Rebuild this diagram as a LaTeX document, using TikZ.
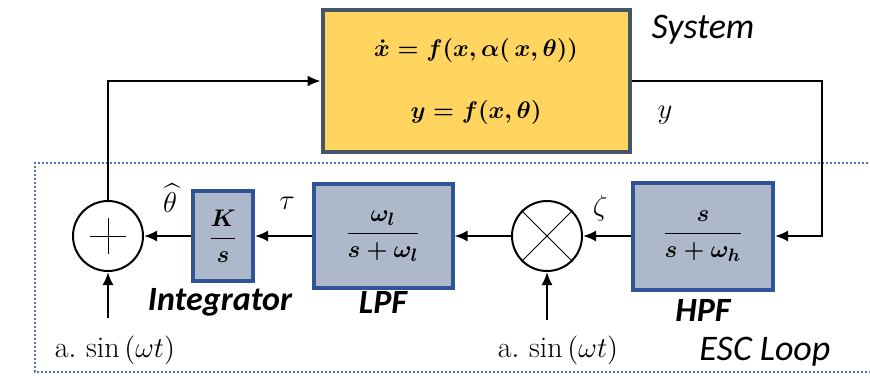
\documentclass[tikz,border=0pt]{standalone}
\usepackage{amsmath}
\usepackage{fontspec}
\newfontfamily\escsans{Carlito}
\usetikzlibrary{arrows.meta,positioning}
\definecolor{escgold}{HTML}{FFD560}
\definecolor{escslate}{HTML}{44546A}
\definecolor{escblue}{HTML}{2F5597}
\definecolor{escgray}{HTML}{ADB9CA}
\definecolor{escdots}{HTML}{4F74B8}
\tikzstyle{escsys}=[draw=escslate,fill=escgold,line width=2pt,minimum width=153.5pt,
  minimum height=71pt,align=center,font=\fontsize{13}{16}\selectfont\boldmath,inner sep=2pt]
\tikzstyle{escblock}=[draw=escblue,fill=escgray,line width=2pt,align=center,
  font=\fontsize{13}{16}\selectfont\boldmath,inner sep=2pt]
\tikzstyle{escjoin}=[draw=black,circle,line width=1pt,minimum size=35pt,inner sep=0pt]
\tikzstyle{escarrow}=[-{Latex[length=6.5pt,width=5.5pt]},draw=black,line width=1pt]
\tikzstyle{esctitle}=[font=\escsans\itshape\fontsize{18}{20}\selectfont]
\tikzstyle{escname}=[font=\escsans\bfseries\itshape\fontsize{17}{20}\selectfont]
\tikzstyle{escsym}=[font=\fontsize{15}{18}\selectfont,inner sep=1pt]
\tikzstyle{escgroup}=[draw=escdots,line width=1pt,dash pattern=on 1pt off 1pt]

\begin{document}
\begin{tikzpicture}[x=0.5pt,y=-0.5pt]
    \useasboundingbox (0,0) rectangle (870,376);
    % ---- plant ----
    \node[escsys] (sys) at (476,81) {$\dot{x} = f(x,\alpha(\,x,\theta))$\\[15pt]$y = f(x,\theta)$};
    \node[esctitle] (systxt) at (703,30) {System};
    \node[escsym] (ytxt) at (665,115) {$y$};

    % ---- ESC loop ----
    \draw[escgroup] (872,163) -- (35,163) -- (35,372) -- (872,372);
    \node[esctitle] (esctxt) at (765,352) {ESC Loop};

    \node[escblock,minimum width=70pt,minimum height=53.5pt] (hpf) at (703,236) {$\dfrac{s}{s+\omega_h}$};
    \node[escjoin] (mul) at (547,236) {};
    \node[escblock,minimum width=69.5pt,minimum height=52pt] (lpf) at (383,236) {$\dfrac{\omega_l}{s+\omega_l}$};
    \node[escblock,minimum width=30pt,minimum height=45pt] (int) at (223,236) {$\dfrac{K}{s}$};
    \node[escjoin] (sum) at (108,236) {};
    \draw (mul.north east) -- (mul.south west);
    \draw (mul.north west) -- (mul.south east);
    \draw (sum.center) ++(-9pt,0) -- ++(18pt,0);
    \draw (sum.center) ++(0,-9pt) -- ++(0,18pt);

    \node[escname] (hpftxt) at (703,310) {HPF};
    \node[escname] (lpftxt) at (383,302) {LPF};
    \node[escname] (inttxt) at (220,302) {Integrator};
    \node[escsym] (zeta) at (600,208) {$\zeta$};
    \node[escsym] (tau) at (287,203) {$\tau$};
    \node[escsym] (thhat) at (170,198) {$\widehat{\theta}$};

    % dither inputs
    \node[escsym] (sinA) at (115,350) {$\mathrm{a}.\,\sin\,(\omega t)$};
    \node[escsym] (sinB) at (558,350) {$\mathrm{a}.\,\sin\,(\omega t)$};
    \coordinate (ditA) at (108,318);
    \coordinate (ditB) at (547,320);
    \draw[escarrow] (ditA) -- (sum.south);
    \draw[escarrow] (ditB) -- (mul.south);

    % ---- signal path ----
    \coordinate (yturn) at (822,81);
    \draw[escarrow] (sys.east) -- (yturn) |- (hpf.east);
    \foreach \a/\b in {hpf/mul,mul/lpf,lpf/int,int/sum} {\draw[escarrow] (\a) -- (\b);}
    \draw[escarrow] (sum.north) |- (sys.west);
\end{tikzpicture}
\end{document}
